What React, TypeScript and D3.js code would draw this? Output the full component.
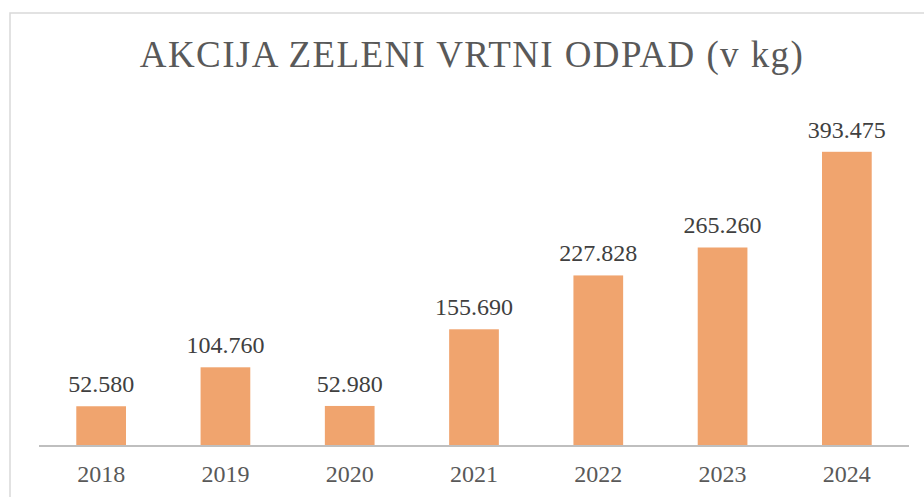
import React from "react";
import * as d3 from "d3";

const categories = ["2018", "2019", "2020", "2021", "2022", "2023", "2024"];
const values = [52.58, 104.76, 52.98, 155.69, 227.828, 265.26, 393.475];
const valueLabels = ["52.580", "104.760", "52.980", "155.690", "227.828", "265.260", "393.475"];
const title = "AKCIJA ZELENI VRTNI ODPAD (v kg)";

export default function App() {
  const W = 924, H = 497;
  const x = d3.scaleBand<string>().domain(categories).range([39, 909]).paddingInner(0.6).paddingOuter(0.3);
  const y = d3.scaleLinear().domain([0, 450]).range([445.5, 109.6]);
  const font = "'Liberation Serif', 'Times New Roman', serif";
  const textColor = "#595959";
  return (
    <svg width={W} height={H} style={{ position: "absolute", left: 0, top: 0 }}>
      <rect x={0} y={0} width={W} height={H} fill="#fff" />
      <rect x={10} y={13} width={W + 20} height={H + 20} fill="#fff" stroke="#d9d9d9" strokeWidth={1.5} />
      <text x={472} y={67} textAnchor="middle" fontFamily={font} fontSize={37} letterSpacing={1.4} fill={textColor}>{title}</text>
      {categories.map((c, i) => (
        <g key={c}>
          <rect x={x(c)} y={y(values[i])} width={x.bandwidth()} height={y(0) - y(values[i])} fill="#F0A46E" />
          <text x={(x(c) as number) + x.bandwidth() / 2} y={y(values[i]) - 14} textAnchor="middle" fontFamily={font} fontSize={24} fill="#404040">{valueLabels[i]}</text>
          <text x={(x(c) as number) + x.bandwidth() / 2} y={482} textAnchor="middle" fontFamily={font} fontSize={24} fill={textColor}>{c}</text>
        </g>
      ))}
      <line x1={39} x2={909} y1={446} y2={446} stroke="#bfbfbf" strokeWidth={2} />
    </svg>
  );
}
